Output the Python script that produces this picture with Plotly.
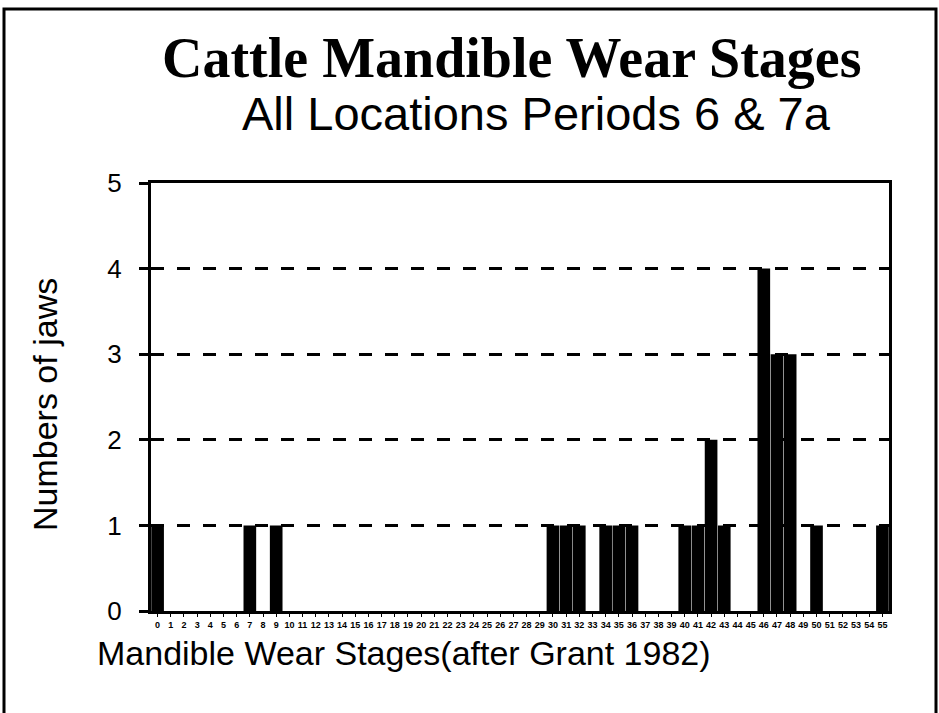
import plotly.graph_objects as go

stages = list(range(56))
counts_by_stage = {0: 1, 7: 1, 9: 1, 30: 1, 31: 1, 32: 1, 34: 1, 35: 1, 36: 1,
                   40: 1, 41: 1, 42: 2, 43: 1, 46: 4, 47: 3, 48: 3, 50: 1, 55: 1}
counts = [counts_by_stage.get(s, 0) for s in stages]
tick_labels = [str(s) for s in stages]
y_ticks = [0, 1, 2, 3, 4, 5]

title = "Cattle Mandible Wear Stages"
subtitle = "All Locations Periods 6 & 7a"
x_title = "Mandible Wear Stages(after Grant 1982)"
y_title = "Numbers of jaws"

W, H = 939, 713
L, R, T, B = 151, 50, 183, 102
pw, ph = W - L - R, H - T - B


def px(x):
    return (x - L) / pw


def py(y):
    return (H - B - y) / ph


fig = go.Figure(go.Bar(x=stages, y=counts, marker=dict(color="black", line=dict(width=0)),
                       width=0.96))

fig.update_layout(
    width=W, height=H,
    margin=dict(l=L, r=R, t=T, b=B),
    paper_bgcolor="white", plot_bgcolor="white",
    showlegend=False,
    xaxis=dict(range=[-0.5, 55.5], tickmode="array", tickvals=stages, ticktext=tick_labels,
               tickangle=0,
               tickfont=dict(family="Liberation Sans, Arial", size=9, color="black", weight="bold"),
               showline=True, linecolor="black", linewidth=3, mirror=True,
               ticks="outside", ticklen=3, tickcolor="black", tickwidth=1,
               showgrid=False, zeroline=False, fixedrange=True),
    yaxis=dict(range=[0, 5], tickmode="array", tickvals=y_ticks,
               tickfont=dict(family="Liberation Sans, Arial", size=26, color="black"),
               showline=True, linecolor="black", linewidth=3, mirror=True,
               ticks="outside", ticklen=9, tickcolor="black", tickwidth=3,
               ticklabelstandoff=12,
               showgrid=True, gridcolor="black", gridwidth=3, griddash="13px,13px",
               zeroline=False, fixedrange=True),
    annotations=[
        dict(text="<b>" + title + "</b>", x=px(511), y=py(58), xref="paper", yref="paper",
             showarrow=False, xanchor="center", yanchor="middle",
             font=dict(family="Liberation Serif, Times New Roman", size=56, color="black")),
        dict(text=subtitle, x=px(536), y=py(113), xref="paper", yref="paper",
             showarrow=False, xanchor="center", yanchor="middle",
             font=dict(family="Liberation Sans, Arial", size=47, color="black")),
        dict(text=y_title, x=px(45), y=py(405), xref="paper", yref="paper",
             showarrow=False, xanchor="center", yanchor="middle", textangle=-90,
             font=dict(family="Liberation Sans, Arial", size=34, color="black")),
        dict(text=x_title, x=px(95), y=py(653), xref="paper", yref="paper",
             showarrow=False, xanchor="left", yanchor="middle",
             font=dict(family="Liberation Sans, Arial", size=34, color="black")),
    ],
    shapes=[
        dict(type="rect", xref="paper", yref="paper", x0=px(4), x1=px(936), y0=py(740), y1=py(9),
             line=dict(color="black", width=3), fillcolor="rgba(0,0,0,0)", layer="above"),
    ],
)

fig.write_html("out.html", config={"displayModeBar": False},
               post_script="document.body.style.margin='0';")
